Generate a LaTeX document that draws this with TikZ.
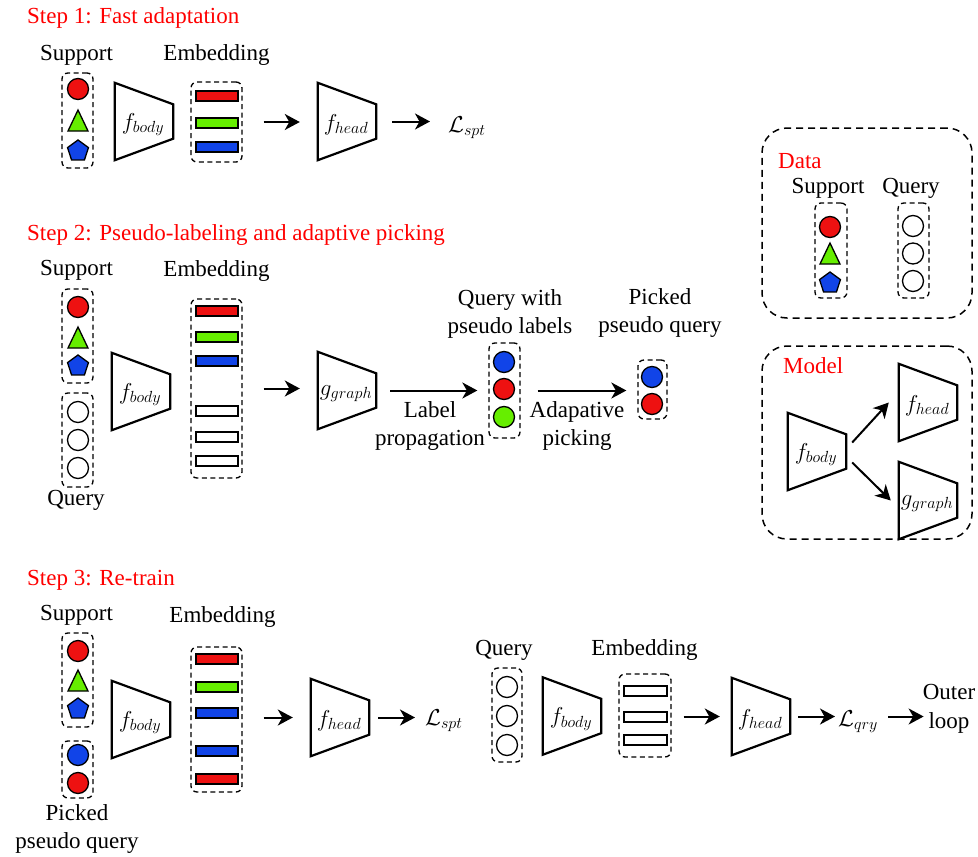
\RequirePackage{fix-cm}
\documentclass[tikz,border=0pt]{standalone}
\usepackage{fontspec}
\setmainfont{Liberation Serif}
\usetikzlibrary{arrows.meta,calc}

\definecolor{cred}{RGB}{238,17,17}
\definecolor{cgreen}{RGB}{102,238,0}
\definecolor{cblue}{RGB}{17,68,232}
\definecolor{titlered}{RGB}{255,0,0}

% trapezoid network block: name, centre x, centre y, label
\newcommand\trapez[4]{%
  \node[trapbox] (#1) at (#2,#3) {};
  \draw[trapline] (#1.north west) -- ([yshift=-21.5pt]#1.north east)
    -- ([yshift=21.5pt]#1.south east) -- (#1.south west) -- cycle;
  \node[inner sep=0pt] (#1-t) at ([xshift=-1pt,yshift=-3pt]#1.center) {#4};
}

\begin{document}
\begin{tikzpicture}[x=1pt, y=-1pt,
  every node/.style={font=\fontsize{23}{28.5}\selectfont},
  dbox/.style={draw, dash pattern=on 5pt off 3.5pt, line width=1.3pt, rounded corners=6pt, inner sep=0pt},
  bigbox/.style={draw, dash pattern=on 7pt off 5pt, line width=1.5pt, rounded corners=25pt, inner sep=0pt},
  bar/.style={draw, line width=1.5pt, minimum width=42pt, minimum height=10pt, inner sep=0pt},
  dot/.style={circle, draw, line width=1.3pt, minimum size=21pt, inner sep=0pt},
  trapbox/.style={minimum width=58pt, minimum height=77pt, inner sep=0pt},
  trapline/.style={line width=2.2pt, line join=miter},
  arr/.style={line width=2pt, -{Stealth[length=15pt,width=16pt,inset=4.5pt]}},
  lbl/.style={anchor=base, inner sep=0pt, align=center},
  title/.style={anchor=base west, inner sep=0pt, text=titlered},
  tri/.pic={\filldraw[line width=1.3pt, fill=cgreen, line join=miter] (-10,10) -- (10,10) -- (0,-11) -- cycle;},
  pent/.pic={\filldraw[line width=1.3pt, fill=cblue, line join=miter] (-90:11) -- (-18:11) -- (54:11) -- (126:11) -- (198:11) -- cycle;}
]
\useasboundingbox (0,0) rectangle (978,857);

% ---------------- Step 1 ----------------
\node[title] (t1) at (27,23) {Step 1: Fast adaptation};
\node[lbl] (t1sup) at (76.5,60) {Support};
\node[lbl] (t1emb) at (216.5,60) {Embedding};
\node[dbox, minimum width=31pt, minimum height=95pt] (sup1) at (77.5,120.5) {};
\node[dot, fill=cred] (sup1a) at (78,89) {};
\pic at (78,121) {tri};
\pic at (78,151) {pent};
\trapez{body1}{144}{121.5}{$f_{body}$}
\node[dbox, minimum width=51pt, minimum height=80pt] (emb1) at (216.5,122) {};
\foreach \c/\y [count=\i] in {cred/96, cgreen/123, cblue/147}
  \node[bar, fill=\c] (emb1-\i) at (217,\y) {};
\trapez{head1}{347}{121.5}{$f_{head}$}
\node[anchor=base west, inner sep=0pt] (lspt1) at (448,132) {$\mathcal{L}_{spt}$};
\draw[arr] ([xshift=21pt]emb1.east) -- ($(emb1.east -| head1.west)+(-18,0)$);
\draw[arr] ([xshift=16pt]head1.east) -- ($(head1.east -| lspt1.west)+(-18,0)$);

% ---------------- Step 2 ----------------
\node[title] (t2) at (27,240) {Step 2: Pseudo-labeling and adaptive picking};
\node[lbl] (t2sup) at (76.5,275) {Support};
\node[lbl] (t2emb) at (216.5,276) {Embedding};
\node[dbox, minimum width=31pt, minimum height=94pt] (sup2) at (77.5,336) {};
\node[dot, fill=cred] (sup2a) at (78,307) {};
\pic at (78,338) {tri};
\pic at (78,366) {pent};
\node[dbox, minimum width=31pt, minimum height=94pt] (qry2) at (77.5,440) {};
\foreach \y [count=\i] in {412,440,468}
  \node[dot, fill=white] (qry2-\i) at (78,\y) {};
\node[lbl] (t2qry) at (76,505) {Query};
\trapez{body2}{141}{391.5}{$f_{body}$}
\node[dbox, minimum width=51pt, minimum height=179pt] (emb2) at (216.5,388.5) {};
\foreach \c/\y [count=\i] in {cred/311, cgreen/337, cblue/361, white/411, white/437, white/461}
  \node[bar, fill=\c] (emb2-\i) at (217,\y) {};
\trapez{graph2}{347}{390.5}{$g_{graph}$}
\draw[arr] ([xshift=21pt]emb2.east) -- ($(emb2.east -| graph2.west)+(-18,0)$);
\node[dbox, minimum width=31pt, minimum height=95pt] (pl2) at (504.5,390.5) {};
\foreach \c/\y [count=\i] in {cblue/362, cred/389, cgreen/417}
  \node[dot, fill=\c] (pl2-\i) at (504,\y) {};
\draw[arr] ([xshift=14pt]graph2.east) -- ($(graph2.east -| pl2.west)+(-11,0)$);
\node[lbl] (t2lp) at (430,445.5) {Label\\propagation};
\node[lbl] (t2pl) at (510,333.5) {Query with\\pseudo labels};
\node[dbox, minimum width=29pt, minimum height=59pt] (pk2) at (652.5,389.5) {};
\foreach \c/\y [count=\i] in {cblue/377, cred/404}
  \node[dot, fill=\c] (pk2-\i) at (652,\y) {};
\draw[arr] ([xshift=17pt]pl2.east) -- ($(pl2.east -| pk2.west)+(-11,0)$);
\node[lbl] (t2ap) at (577,445.5) {Adapative\\picking};
\node[lbl] (t2pk) at (660,332.5) {Picked\\pseudo query};

% ---------------- Data ----------------
\node[bigbox, minimum width=210pt, minimum height=190pt] (data) at (867,223) {};
\node[anchor=base west, inner sep=0pt, text=titlered] (datat) at (778,168) {Data};
\node[lbl] (dsup) at (828,193) {Support};
\node[lbl] (dqry) at (911,193) {Query};
\node[dbox, minimum width=32pt, minimum height=95pt] (dsupb) at (831,250.5) {};
\node[dot, fill=cred] (dsupb-1) at (830,227) {};
\pic at (830,254) {tri};
\pic at (830,283) {pent};
\node[dbox, minimum width=31pt, minimum height=95pt] (dqryb) at (913.5,250.5) {};
\foreach \y [count=\i] in {226,253.5,281}
  \node[dot, fill=white] (dqryb-\i) at (913,\y) {};

% ---------------- Model ----------------
\node[bigbox, minimum width=210pt, minimum height=193pt] (model) at (867,442.5) {};
\node[anchor=base west, inner sep=0pt, text=titlered] (modelt) at (783,373) {Model};
\trapez{mbody}{817}{451.5}{$f_{body}$}
\trapez{mhead}{928}{402.5}{$f_{head}$}
\trapez{mgraph}{928}{500.5}{$g_{graph}$}
\draw[arr] ([xshift=6pt,yshift=9pt]mbody.east) -- ([xshift=-10pt]mhead.west);
\draw[arr] ([xshift=6pt,yshift=-11pt]mbody.east) -- ([xshift=-8pt]mgraph.west);

% ---------------- Step 3 ----------------
\node[title] (t3) at (27,585) {Step 3: Re-train};
\node[lbl] (t3sup) at (76.5,620) {Support};
\node[lbl] (t3emb) at (222.5,622) {Embedding};
\node[dbox, minimum width=31pt, minimum height=94pt] (sup3) at (77.5,680) {};
\node[dot, fill=cred] (sup3a) at (78,651) {};
\pic at (78,681) {tri};
\pic at (78,709) {pent};
\node[dbox, minimum width=31pt, minimum height=57pt] (pk3) at (77.5,769.5) {};
\foreach \c/\y [count=\i] in {cblue/755, cred/783}
  \node[dot, fill=\c] (pk3-\i) at (78,\y) {};
\node[lbl] (t3pk) at (77,848.5) {Picked\\pseudo query};
\trapez{body3}{141}{719.5}{$f_{body}$}
\node[dbox, minimum width=51pt, minimum height=145pt] (emb3) at (216.5,719.5) {};
\foreach \c/\y [count=\i] in {cred/659, cgreen/687, cblue/713, cblue/751, cred/779}
  \node[bar, fill=\c] (emb3-\i) at (217,\y) {};
\trapez{head3}{340}{717.5}{$f_{head}$}
\draw[arr] ($(emb3.east |- head3.west)+(21,0)$) -- ($(head3.west)+(-18,0)$);
\node[anchor=base west, inner sep=0pt] (lspt3) at (425,725) {$\mathcal{L}_{spt}$};
\draw[arr] ([xshift=9pt]head3.east) -- ($(head3.east -| lspt3.west)+(-10,0)$);

\node[lbl] (t3q) at (504,655) {Query};
\node[lbl] (t3emb2) at (644.5,655) {Embedding};
\node[dbox, minimum width=30pt, minimum height=94pt] (qry3) at (507,715) {};
\foreach \y [count=\i] in {687,716,745}
  \node[dot, fill=white] (qry3-\i) at (507,\y) {};
\trapez{body3b}{572}{716}{$f_{body}$}
\node[dbox, minimum width=52pt, minimum height=83pt] (emb3b) at (645,715.5) {};
\foreach \y [count=\i] in {691,717,740}
  \node[bar, fill=white, minimum width=43pt] (emb3b-\i) at (645.5,\y) {};
\trapez{head3b}{761}{716.5}{$f_{head}$}
\draw[arr] ($(emb3b.east |- head3b.west)+(12,0)$) -- ($(head3b.west)+(-12,0)$);
\node[anchor=base west, inner sep=0pt] (lqry) at (838,726) {$\mathcal{L}_{qry}$};
\draw[arr] ([xshift=8pt]head3b.east) -- ($(head3b.east -| lqry.west)+(-3,0)$);
\node[lbl] (outer) at (949,728) {Outer\\loop};
\draw[arr] ($(lqry.east |- head3b.east)+(10,0)$) -- ($(head3b.east -| outer.west)+(1,0)$);
\end{tikzpicture}
\end{document}
